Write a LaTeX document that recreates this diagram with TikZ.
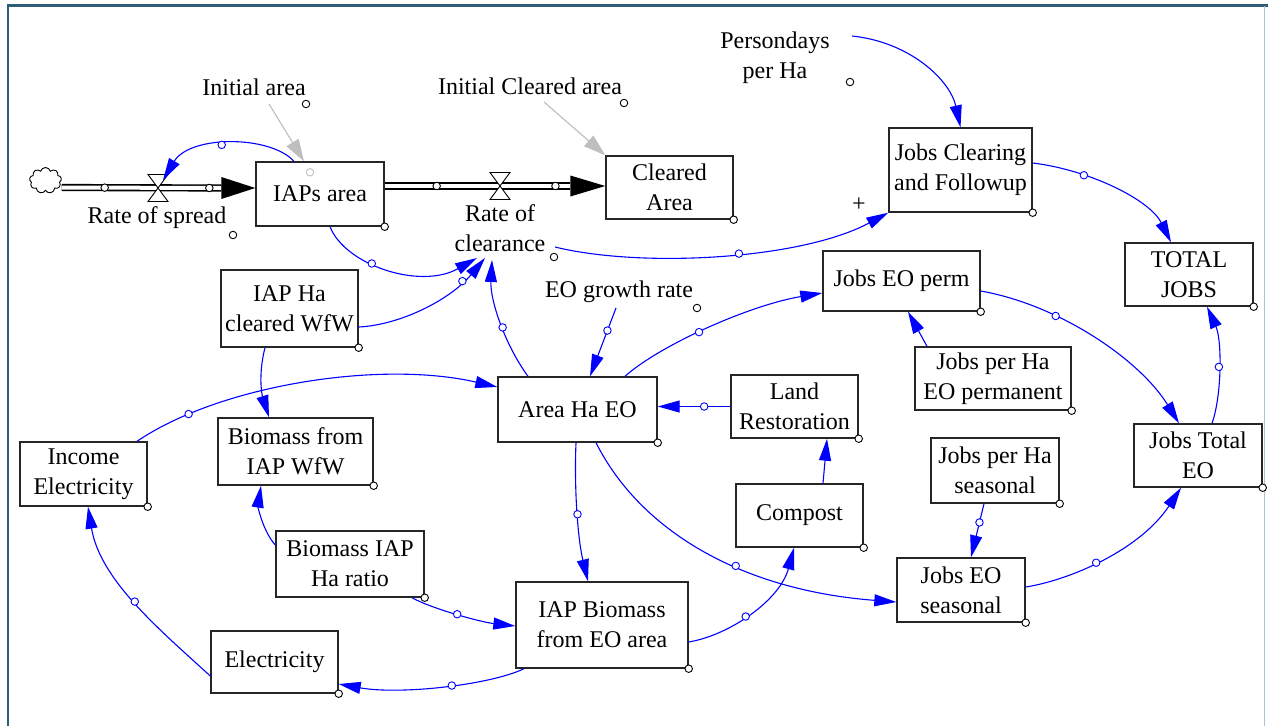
\documentclass[tikz,border=0pt]{standalone}
\usepackage{fontspec}
\setmainfont{Liberation Serif}
\usetikzlibrary{arrows.meta,shapes.symbols}
\definecolor{vblue}{RGB}{0,0,255}
\definecolor{frameteal}{RGB}{47,93,120}
\definecolor{frameedge}{RGB}{170,195,210}
\definecolor{igrey}{RGB}{190,190,190}
\begin{document}
\begin{tikzpicture}[x=1pt,y=-1pt,
  every node/.style={font=\fontsize{24}{30}\selectfont},
  box/.style={draw=black!85,line width=1.4pt,align=center,inner sep=0pt,fill=white},
  lbl/.style={align=center,inner sep=0pt},
  link/.style={vblue,line width=1.1pt,-{Triangle[length=22pt,width=12pt]}},
  glink/.style={igrey,line width=1.1pt,-{Triangle[length=22pt,width=14pt]}},
  knob/.style={circle,draw=vblue,fill=white,line width=0.9pt,inner sep=0pt,minimum size=7.5pt},
  bknob/.style={circle,draw=black,fill=white,line width=0.9pt,inner sep=0pt,minimum size=7.5pt},
  gknob/.style={circle,draw=igrey,fill=white,line width=0.9pt,inner sep=0pt,minimum size=7.5pt},
  pipe/.style={draw=black,double=white,double distance=4pt,line width=1.6pt},
  valvepart/.style={draw=black,fill=white,line width=0.9pt}
]
\useasboundingbox (0,0) rectangle (1268,726);
\fill[white] (0,0) rectangle (1268,726);
% frame
\draw[frameteal,line width=3pt] (7,5) -- (1268,5);
\draw[frameteal,line width=2pt] (8,4) -- (8,726);
\draw[frameedge,line width=1pt] (1264,6) -- (1264,726);

% stocks and auxiliaries
\node[box,minimum width=128pt,minimum height=64pt] (iaps) at (320,194) {IAPs area};
\node[box,minimum width=127pt,minimum height=63pt] (cleared) at (669.5,187.5) {Cleared\\Area};
\node[box,minimum width=143pt,minimum height=84pt] (jcf) at (960.5,170) {Jobs Clearing\\and Followup};
\node[box,minimum width=128pt,minimum height=63pt] (total) at (1189,274.5) {TOTAL\\JOBS};
\node[box,minimum width=157pt,minimum height=60pt] (jeop) at (901.5,281) {Jobs EO perm};
\node[box,minimum width=137pt,minimum height=77pt] (iapha) at (289.5,308.5) {IAP Ha\\cleared WfW};
\node[box,minimum width=159pt,minimum height=65pt] (area) at (577.5,409.5) {Area Ha EO};
\node[box,minimum width=127pt,minimum height=63pt] (land) at (794.5,406.5) {Land\\Restoration};
\node[box,minimum width=156pt,minimum height=63pt] (jphp) at (993,378.5) {Jobs per Ha\\EO permanent};
\node[box,minimum width=128pt,minimum height=63pt] (jte) at (1198,455.5) {Jobs Total\\EO};
\node[box,minimum width=127pt,minimum height=64pt] (income) at (83.5,474) {Income\\Electricity};
\node[box,minimum width=155pt,minimum height=67pt] (bfrom) at (295.5,451.5) {Biomass from\\IAP WfW};
\node[box,minimum width=128pt,minimum height=65pt] (jphs) at (995,470.5) {Jobs per Ha\\seasonal};
\node[box,minimum width=127pt,minimum height=63pt] (compost) at (799.5,515.5) {Compost};
\node[box,minimum width=148pt,minimum height=66pt] (bratio) at (350,564) {Biomass IAP\\Ha ratio};
\node[box,minimum width=172pt,minimum height=86pt] (iapb) at (602,625) {IAP Biomass\\from EO area};
\node[box,minimum width=128pt,minimum height=64pt] (jeos) at (961,590) {Jobs EO\\seasonal};
\node[box,minimum width=127pt,minimum height=62pt] (elec) at (274.5,662) {Electricity};

\foreach \n in {iaps,cleared,jcf,total,jeop,iapha,area,land,jphp,jte,income,bfrom,jphs,compost,bratio,iapb,jeos,elec}
  \node[bknob] at (\n.south east) {};

% labels
\node[lbl] (ia) at (254,87) {Initial area};
\node[lbl] (ica) at (530,86) {Initial Cleared area};
\node[lbl] (pd) at (775,58) {Persondays\\per Ha};
\node[lbl] (ros) at (157,218) {Rate of spread};
\node[lbl] (roc) at (500,228) {Rate of\\clearance};
\node[lbl] (eog) at (619,292) {EO growth rate};
\node[lbl] (plus) at (859,205) {+};
\node[bknob] at ([shift={(52pt,-17pt)}]ia.center) {};
\node[bknob] at ([shift={(94pt,-17pt)}]ica.center) {};
\node[bknob] at ([shift={(75pt,-24pt)}]pd.center) {};
\node[bknob] at ([shift={(76pt,-17pt)}]ros.center) {};
\node[bknob] at ([shift={(54pt,-29pt)}]roc.center) {};
\node[bknob] at ([shift={(78pt,-16pt)}]eog.center) {};

% flows
\node[cloud,cloud puffs=9,draw,line width=0.9pt,minimum width=32pt,minimum height=26pt,inner sep=0pt,aspect=1.3] (src) at (45.5,180.5) {};
\coordinate (v1) at (158,188);
\coordinate (v2) at (500,186);
\draw[pipe] ([yshift=-7pt]src.east) -- node[bknob,pos=0.27]{} node[bknob,pos=0.925]{} ([shift={(-34pt,6pt)}]iaps.west);
\fill[black] ([shift={(-34pt,17pt)}]iaps.west) -- ([yshift=6pt]iaps.west) -- ([shift={(-34pt,-5pt)}]iaps.west) -- cycle;
\draw[pipe] ([yshift=8pt]iaps.east) -- node[bknob,pos=0.28]{} node[bknob,pos=0.92]{} ([shift={(-35pt,1.5pt)}]cleared.west);
\fill[black] ([shift={(-35pt,12pt)}]cleared.west) -- ([yshift=1.5pt]cleared.west) -- ([shift={(-35pt,-9pt)}]cleared.west) -- cycle;
\foreach \v in {v1,v2}{
  \draw[valvepart] ([shift={(-10pt,13.5pt)}]\v) -- ([shift={(10pt,13.5pt)}]\v) -- (\v) -- cycle;
  \draw[valvepart] ([shift={(-10pt,-13.5pt)}]\v) -- ([shift={(10pt,-13.5pt)}]\v) -- (\v) -- cycle;
}

% initial value links
\draw[glink] ([shift={(15pt,-17pt)}]ia.center) -- ([xshift=-16pt]iaps.north);
\node[gknob] at ([shift={(-10pt,-11pt)}]iaps.north) {};
\draw[glink] ([shift={(14pt,-16pt)}]ica.center) -- (cleared.north west);

% causal links
\draw[link] ([xshift=-26pt]iaps.north) .. controls (270,135) and (190,135) .. node[knob,pos=0.55]{} ([shift={(5pt,8pt)}]v1);
\draw[link] ([shift={(77pt,22pt)}]pd.center) .. controls (910,42) and (950,80) .. (jcf.north);
\draw[link] ([shift={(55pt,-19pt)}]roc.center) .. controls (640,268) and (800,260) .. node[knob,pos=0.55]{} (jcf.south west);
\draw[link] ([yshift=7pt]jcf.east) .. controls (1090,170) and (1150,200) .. node[knob,pos=0.3]{} ([xshift=-18pt]total.north);
\draw[link] ([xshift=10pt]iaps.south) .. controls (345,265) and (420,290) .. node[knob,pos=0.4]{} ([shift={(-23pt,-30pt)}]roc.center);
\draw[link] ([yshift=-18.5pt]iapha.east) .. controls (400,325) and (450,300) .. node[knob,pos=0.8]{} ([shift={(-15pt,-30pt)}]roc.center);
\draw[link] ([xshift=-49.5pt]area.north) .. controls (505,345) and (490,300) .. node[knob,pos=0.45]{} ([shift={(-8pt,-32pt)}]roc.center);
\draw[link] ([shift={(-3pt,-16pt)}]eog.center) -- node[knob,pos=0.33]{} ([xshift=12.5pt]area.north);
\draw[link] ([xshift=53.5pt]income.north) .. controls (220,385) and (380,360) .. node[knob,pos=0.18]{} ([yshift=22.5pt]area.west);
\draw[link] ([xshift=-24.5pt]iapha.south) .. controls (258,375) and (262,395) .. ([xshift=-26.5pt]bfrom.north);
\draw[link] ([xshift=47.5pt]area.north) .. controls (660,345) and (750,305) .. node[knob,pos=0.45]{} ([yshift=-12pt]jeop.west);
\draw[link] ([xshift=-66pt]jphp.north) -- ([xshift=6.5pt]jeop.south);
\draw[link] ([yshift=-10pt]jeop.east) .. controls (1060,305) and (1140,360) .. node[knob,pos=0.32]{} ([xshift=-19pt]jte.north);
\draw[link] ([xshift=14pt]jte.north) .. controls (1222,395) and (1222,340) .. node[knob,pos=0.5]{} ([xshift=18pt]total.south);
\draw[link] (land.west) -- node[knob,pos=0.36]{} (land.west -| area.east);
\draw[link] ([xshift=23.5pt]compost.north) -- ([xshift=32.5pt]land.south);
\draw[link] ([xshift=-1.5pt]area.south) .. controls (574,490) and (578,540) .. node[knob,pos=0.5]{} ([xshift=-14pt]iapb.north);
\draw[link] ([xshift=18.5pt]area.south) .. controls (640,530) and (740,590) .. node[knob,pos=0.6]{} ([yshift=-12pt]jeos.west);
\draw[link] ([yshift=19pt]bratio.west) .. controls (262,530) and (258,505) .. ([xshift=-34.5pt]bfrom.south);
\draw[link] ([xshift=62pt]bratio.south) .. controls (430,608) and (480,622) .. node[knob,pos=0.5]{} ([yshift=-1pt]iapb.west);
\draw[link] ([xshift=-78pt]iapb.south) .. controls (490,685) and (400,695) .. node[knob,pos=0.45]{} ([yshift=-22pt]elec.east);
\draw[link] ([yshift=-14pt]elec.west) .. controls (160,630) and (100,580) .. node[knob,pos=0.5]{} ([xshift=4.5pt]income.south);
\draw[link] ([yshift=-17pt]iapb.east) .. controls (730,635) and (780,600) .. node[knob,pos=0.45]{} ([xshift=-5.5pt]compost.south);
\draw[link] ([xshift=-11pt]jphs.south) -- node[knob,pos=0.35]{} ([xshift=10pt]jeos.north);
\draw[link] ([yshift=3pt]jeos.east) .. controls (1070,580) and (1140,550) .. node[knob,pos=0.45]{} ([xshift=-17pt]jte.south);
\end{tikzpicture}
\end{document}
